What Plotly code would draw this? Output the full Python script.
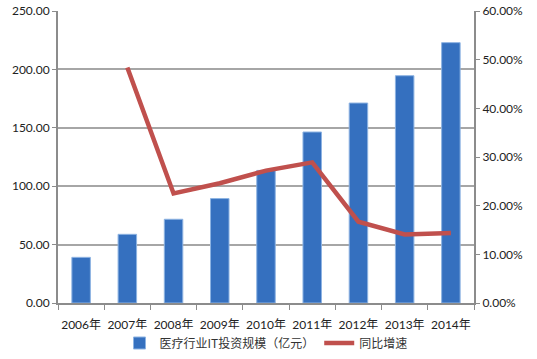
import plotly.graph_objects as go

years = ["2006年", "2007年", "2008年", "2009年", "2010年", "2011年", "2012年", "2013年", "2014年"]
invest = [39.1, 58.8, 71.7, 89.4, 113.5, 146.4, 171.2, 194.6, 222.9]
growth = [None, 0.484, 0.225, 0.246, 0.272, 0.289, 0.167, 0.141, 0.144]

font_num = "Lato, Noto Sans CJK SC, sans-serif"

fig = go.Figure()
fig.add_trace(go.Bar(
    x=years, y=invest, name="医疗行业IT投资规模（亿元）",
    marker=dict(color="#3570bf", line=dict(color="#8db3e2", width=1)),
    width=0.4,
))
fig.add_trace(go.Scatter(
    x=years, y=growth, name="同比增速", yaxis="y2", mode="lines",
    line=dict(color="#c0504d", width=4.5), connectgaps=False,
))

fig.update_layout(
    width=537, height=359,
    margin=dict(l=58, r=63, t=11, b=56, autoexpand=False),
    paper_bgcolor="white", plot_bgcolor="white",
    font=dict(family=font_num, size=12, color="#222"),
    showlegend=True,
    legend=dict(orientation="h", x=0.5, xanchor="center", y=-0.137, yanchor="middle",
                font=dict(family="Noto Sans CJK SC, sans-serif", size=12, color="#333"),
                itemwidth=30, tracegroupgap=0),
    xaxis=dict(showline=True, linecolor="#8c8c8c", linewidth=2, ticks="outside",
               tickson="boundaries", ticklen=5, tickcolor="#8c8c8c", tickangle=0,
               ticklabelstandoff=10,
               tickfont=dict(family=font_num, size=12, color="#222"),
               showgrid=False, automargin=False),
    yaxis=dict(range=[0, 250], dtick=50, tickformat=".2f", showline=True,
               linecolor="#8c8c8c", linewidth=2, ticks="outside", ticklen=4,
               tickcolor="#8c8c8c", gridcolor="#a6a6a6", gridwidth=1.5,
               zeroline=False, tickfont=dict(size=12), automargin=False),
    yaxis2=dict(range=[0, 0.6], dtick=0.1, tickformat=".2%", overlaying="y",
                side="right", showline=True, linecolor="#8c8c8c", linewidth=2,
                ticks="outside", ticklen=4, tickcolor="#8c8c8c", showgrid=False,
                zeroline=False, tickfont=dict(size=12), automargin=False),
)

fig.write_html("out.html", config={"displayModeBar": False},
               post_script="document.body.style.margin='0';")
